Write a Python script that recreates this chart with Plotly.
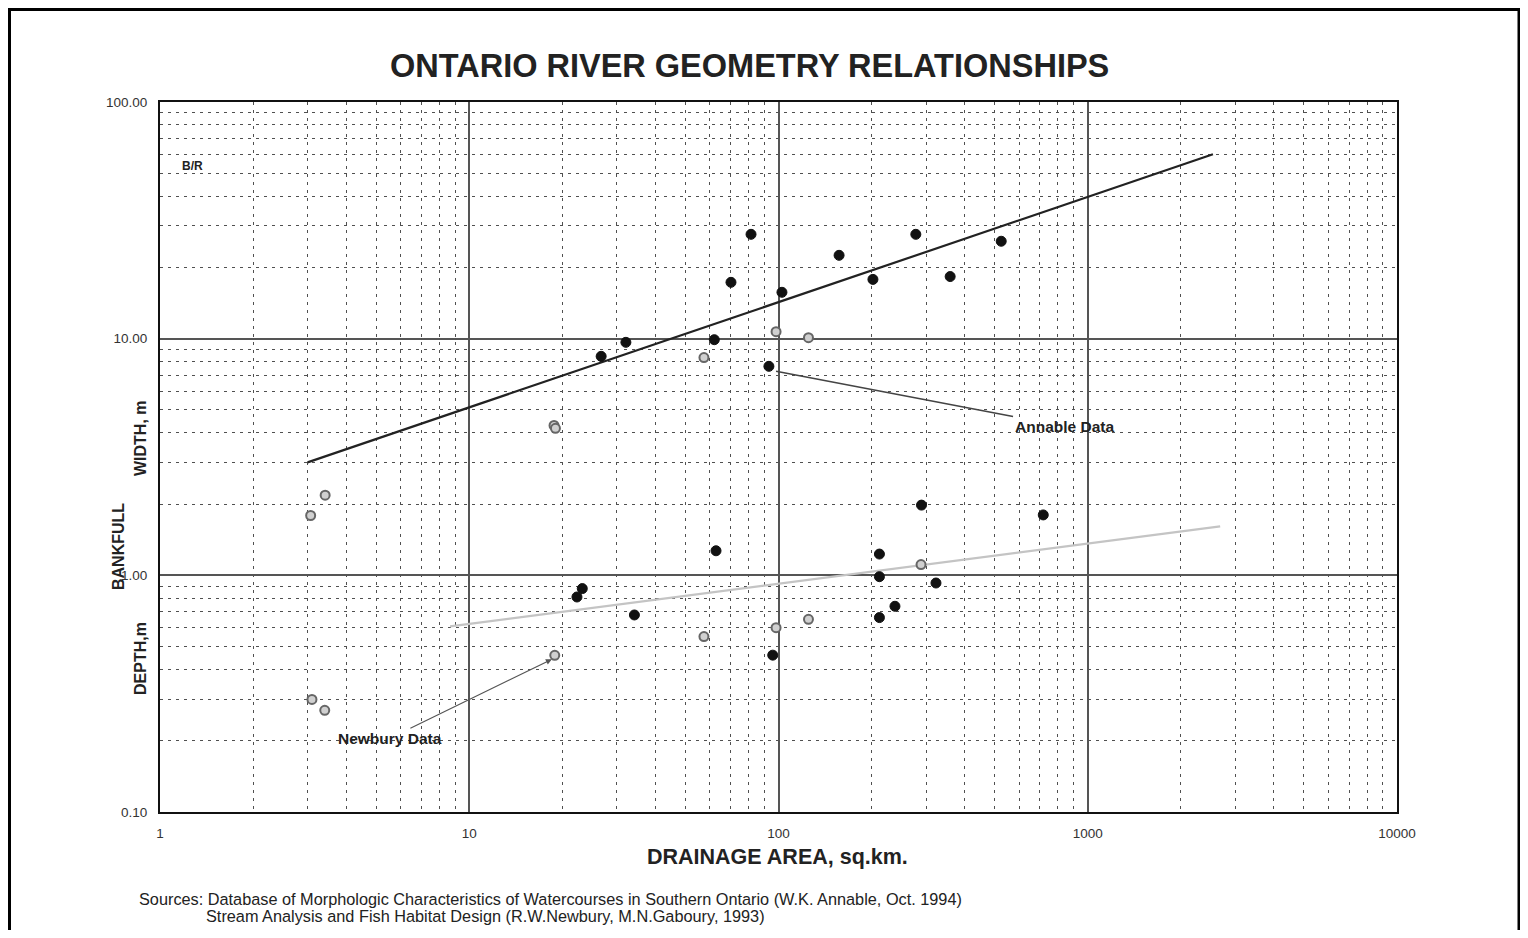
import plotly.graph_objects as go
import math

# ---- Data ----
# Annable data (black filled) - bankfull width
annable_w_area = [26.7, 32.1, 62.0, 70.2, 81.5, 93.1, 102.6, 157, 202, 278, 359, 525]
annable_w_width = [8.42, 9.65, 9.9, 17.3, 27.6, 7.64, 15.7, 22.5, 17.8, 27.6, 18.3, 25.8]

# Annable data (black filled) - bankfull depth
annable_d_area = [23.2, 22.3, 34.2, 62.8, 95.8, 212, 212, 323, 238, 212, 290, 718]
annable_d_depth = [0.879, 0.81, 0.68, 1.27, 0.46, 1.23, 0.987, 0.928, 0.74, 0.663, 1.98, 1.80]

# Newbury data (grey hollow) - bankfull width
newbury_w_area = [3.07, 3.42, 18.8, 19.0, 57.4, 98.2, 125]
newbury_w_width = [1.79, 2.18, 4.30, 4.18, 8.32, 10.7, 10.1]

# Newbury data (grey hollow) - bankfull depth
newbury_d_area = [3.10, 3.41, 18.9, 57.4, 98.2, 125, 289]
newbury_d_depth = [0.299, 0.269, 0.459, 0.551, 0.601, 0.652, 1.11]

# Regression lines (end points)
width_fit_area = [3.0, 2540]
width_fit_value = [3.0, 60.1]
depth_fit_area = [8.67, 2680]
depth_fit_value = [0.609, 1.61]

FONT = "Liberation Sans, Arial, sans-serif"

# layout geometry (figure px); page is offset by the 8px body margin
FIG_W, FIG_H = 1512, 922
L, T = 152, 94
PW, PH = 1237, 710
R = FIG_W - L - PW
B = FIG_H - T - PH


def px(page_x):
    return (page_x - 8 - L) / PW


def py(page_y):
    return (T + PH - (page_y - 8)) / PH


fig = go.Figure()

fig.add_trace(go.Scatter(x=width_fit_area, y=width_fit_value, mode="lines",
                         line=dict(color="#222222", width=2.2), showlegend=False, hoverinfo="skip"))
fig.add_trace(go.Scatter(x=depth_fit_area, y=depth_fit_value, mode="lines",
                         line=dict(color="#c4c4c4", width=2.2), showlegend=False, hoverinfo="skip"))

gray_marker = dict(size=9, color="#d0d0d0", line=dict(color="#666666", width=2))
black_marker = dict(size=10, color="#111111", line=dict(color="#111111", width=1))

fig.add_trace(go.Scatter(x=newbury_w_area, y=newbury_w_width, mode="markers",
                         marker=gray_marker, showlegend=False))
fig.add_trace(go.Scatter(x=newbury_d_area, y=newbury_d_depth, mode="markers",
                         marker=gray_marker, showlegend=False))
fig.add_trace(go.Scatter(x=annable_w_area, y=annable_w_width, mode="markers",
                         marker=black_marker, showlegend=False))
fig.add_trace(go.Scatter(x=annable_d_area, y=annable_d_depth, mode="markers",
                         marker=black_marker, showlegend=False))

minor_grid = dict(dtick="D1", showgrid=True, gridcolor="#505050", gridwidth=1,
                  griddash="3px,5px", ticks="")

fig.update_xaxes(type="log", range=[0, 4], tickmode="linear", tick0=0, dtick=1,
                 tickformat="d", exponentformat="none",
                 showgrid=True, gridcolor="#555555", gridwidth=1.5,
                 minor=minor_grid, showline=True, linecolor="#111111", linewidth=2, mirror=True,
                 tickfont=dict(family=FONT, size=13.5, color="#333333"), ticks="",
                 ticklabelstandoff=8, zeroline=False)
fig.update_yaxes(type="log", range=[-1, 2], tickmode="linear", tick0=0, dtick=1,
                 tickformat=".2f", exponentformat="none",
                 showgrid=True, gridcolor="#555555", gridwidth=1.5,
                 minor=minor_grid, showline=True, linecolor="#111111", linewidth=2, mirror=True,
                 tickfont=dict(family=FONT, size=13.5, color="#333333"), ticks="",
                 ticklabelstandoff=8, zeroline=False)

annotations = [
    dict(text="<b>ONTARIO RIVER GEOMETRY RELATIONSHIPS</b>", xref="paper", yref="paper",
         x=px(749), y=py(66), xanchor="center", yanchor="middle",
         showarrow=False, font=dict(family=FONT, size=32.5, color="#222222")),
    dict(text="<b>DRAINAGE AREA, sq.km.</b>", xref="paper", yref="paper",
         x=px(777), y=py(857), xanchor="center", yanchor="middle",
         showarrow=False, font=dict(family=FONT, size=21.5, color="#222222")),
    dict(text="<b>WIDTH, m</b>", xref="paper", yref="paper", textangle=-90,
         x=px(140), y=py(438), xanchor="center", yanchor="middle",
         showarrow=False, font=dict(family=FONT, size=16, color="#222222")),
    dict(text="<b>BANKFULL</b>", xref="paper", yref="paper", textangle=-90,
         x=px(118), y=py(547), xanchor="center", yanchor="middle",
         showarrow=False, font=dict(family=FONT, size=16, color="#222222")),
    dict(text="<b>DEPTH,m</b>", xref="paper", yref="paper", textangle=-90,
         x=px(140), y=py(659), xanchor="center", yanchor="middle",
         showarrow=False, font=dict(family=FONT, size=16, color="#222222")),
    dict(text="<b>B/R</b>", xref="paper", yref="paper",
         x=px(192), y=py(166), xanchor="center", yanchor="middle",
         showarrow=False, font=dict(family=FONT, size=12, color="#222222")),
    dict(text="Sources: Database of Morphologic Characteristics of Watercourses in Southern Ontario (W.K. Annable, Oct. 1994)",
         xref="paper", yref="paper", x=px(137), y=py(899),
         xanchor="left", yanchor="middle", showarrow=False,
         font=dict(family=FONT, size=16.3, color="#222222")),
    dict(text="Stream Analysis and Fish Habitat Design (R.W.Newbury, M.N.Gaboury, 1993)",
         xref="paper", yref="paper", x=px(204), y=py(916),
         xanchor="left", yanchor="middle", showarrow=False,
         font=dict(family=FONT, size=16.3, color="#222222")),
    # Annable Data callout
    dict(text="<b>Annable Data</b>", x=math.log10(98.2), y=math.log10(7.28),
         xref="x", yref="y", ax=288, ay=55, showarrow=True, arrowhead=0,
         arrowwidth=1.5, arrowcolor="#444444", standoff=0,
         font=dict(family=FONT, size=15.5, color="#222222")),
    # Newbury Data callout
    dict(text="<b>Newbury Data</b>", x=math.log10(18.5), y=math.log10(0.442),
         xref="x", yref="y", ax=-162, ay=79, showarrow=True, arrowhead=2,
         arrowsize=1, arrowwidth=1.2, arrowcolor="#555555",
         font=dict(family=FONT, size=15.5, color="#222222")),
]

fig.update_layout(
    width=FIG_W, height=FIG_H,
    margin=dict(l=L, r=R, t=T, b=B),
    paper_bgcolor="white", plot_bgcolor="white",
    annotations=annotations,
    shapes=[dict(type="rect", xref="paper", yref="paper",
                 x0=(1.5 - L) / PW, x1=px(1519),
                 y0=py(990), y1=py(9.5),
                 line=dict(color="black", width=3), layer="below")],
    showlegend=False,
)

fig.write_html("out.html")
